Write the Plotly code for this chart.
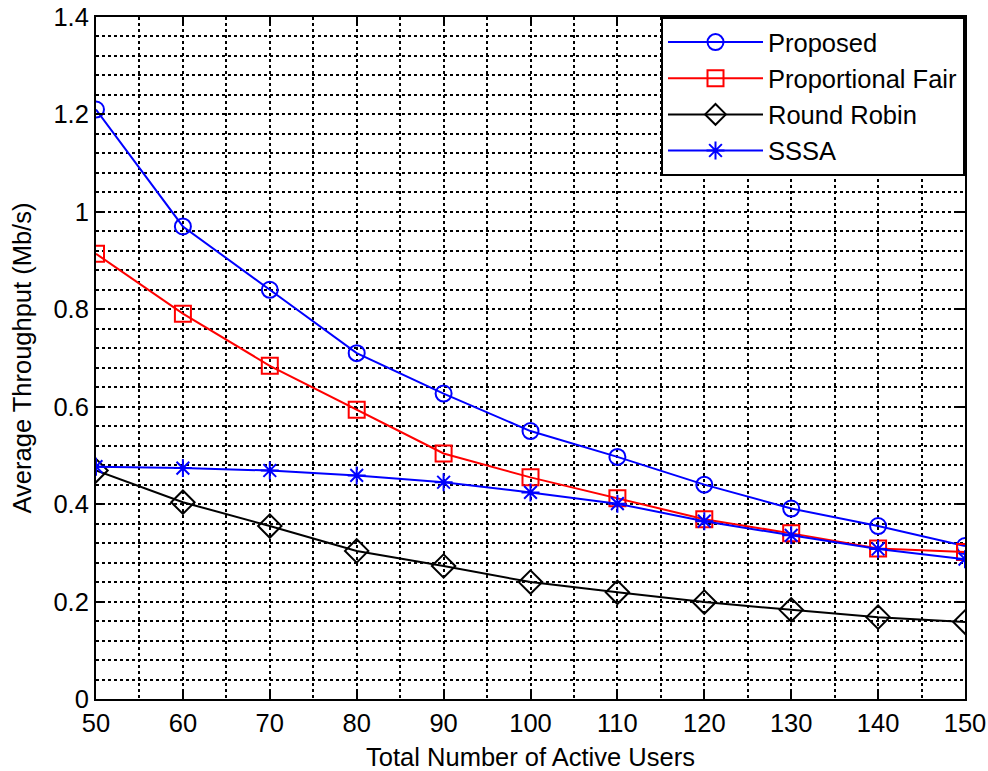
import plotly.graph_objects as go

users = [50, 60, 70, 80, 90, 100, 110, 120, 130, 140, 150]
proposed = [1.21, 0.97, 0.84, 0.71, 0.627, 0.55, 0.497, 0.44, 0.391, 0.355, 0.314]
prop_fair = [0.914, 0.791, 0.684, 0.594, 0.504, 0.455, 0.412, 0.369, 0.340, 0.309, 0.302]
round_robin = [0.469, 0.404, 0.355, 0.304, 0.273, 0.240, 0.219, 0.199, 0.183, 0.168, 0.158]
sssa = [0.477, 0.474, 0.469, 0.459, 0.445, 0.424, 0.401, 0.365, 0.336, 0.308, 0.287]

y_ticks = [0, 0.2, 0.4, 0.6, 0.8, 1.0, 1.2, 1.4]
y_ticklabels = ["0", "0.2", "0.4", "0.6", "0.8", "1", "1.2", "1.4"]
x_ticks = [50, 60, 70, 80, 90, 100, 110, 120, 130, 140, 150]

FONT = "Liberation Sans, Arial, sans-serif"
FS = 25.5

fig = go.Figure()
series = [
    ("Proposed", proposed, "#0000ff", "circle-open", 16),
    ("Proportional Fair", prop_fair, "#ff0000", "square-open", 16),
    ("Round Robin", round_robin, "#000000", "diamond-open", 18),
    ("SSSA", sssa, "#0000ff", "asterisk-open", 15),
]
for name, vals, col, sym, sz in series:
    fig.add_trace(go.Scatter(
        x=users, y=vals, name=name, mode="lines+markers",
        line=dict(color=col, width=2),
        marker=dict(symbol=sym, size=sz, color=col, line=dict(color=col, width=2)),
    ))

grid_common = dict(
    showline=True, linecolor="black", linewidth=2, mirror="ticks",
    ticks="inside", ticklen=8, tickcolor="black", tickwidth=1.5,
    showgrid=True, gridcolor="black", griddash="dot", gridwidth=2.4,
    zeroline=False, automargin=False, ticklabeloverflow="allow",
    tickfont=dict(family=FONT, size=FS, color="black"),
)

fig.update_xaxes(
    range=[50, 150], tickvals=x_ticks,
    title=dict(text="Total Number of Active Users", font=dict(family=FONT, size=FS, color="black"), standoff=13),
    minor=dict(dtick=5, tick0=50, showgrid=True, gridcolor="black", griddash="dot", gridwidth=1.6, ticks=""),
    **grid_common,
)
fig.update_yaxes(
    range=[0, 1.4], tickvals=y_ticks, ticktext=y_ticklabels,
    title=dict(text="Average Throughput (Mb/s)", font=dict(family=FONT, size=FS, color="black"), standoff=15),
    minor=dict(dtick=0.04, tick0=0, showgrid=True, gridcolor="black", griddash="dot", gridwidth=1.6, ticks=""),
    **grid_common,
)

fig.update_layout(
    width=988, height=771,
    margin=dict(l=96, r=23, t=17, b=72),
    paper_bgcolor="white", plot_bgcolor="white",
    font=dict(family=FONT, color="black"),
    legend=dict(
        x=1, y=1, xanchor="right", yanchor="top",
        bgcolor="white", bordercolor="black", borderwidth=2,
        font=dict(family=FONT, size=FS, color="black"),
        tracegroupgap=0, itemwidth=95,
    ),
    showlegend=True,
)

fig.write_html(
    "out.html",
    config={"displayModeBar": False},
    post_script="document.body.style.margin='0';document.body.style.overflow='hidden';",
)
